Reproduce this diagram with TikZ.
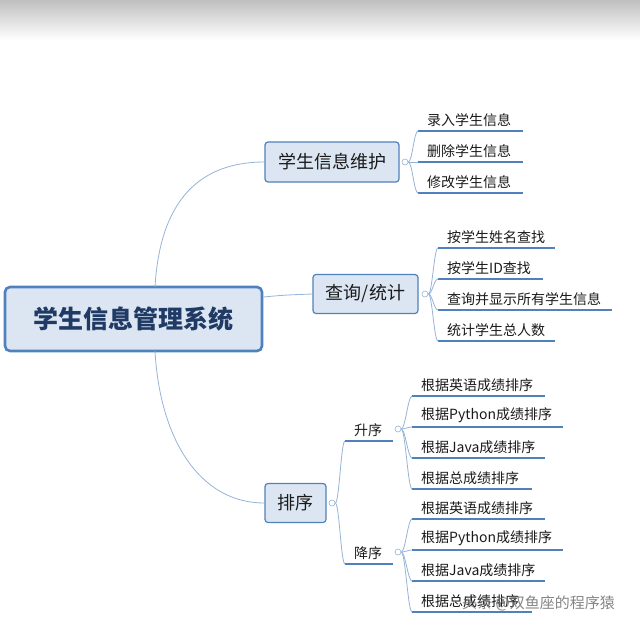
\documentclass[tikz,border=0pt]{standalone}
\usepackage{fontspec}
\setmainfont{Noto Sans CJK SC}
\begin{document}
\begin{tikzpicture}[x=1pt,y=-1pt,
  conn/.style={draw=lightline,line width=0.8pt},
  uline/.style={draw=mainblue,line width=1.8pt},
  box/.style={draw=mainblue,fill=boxfill,rounded corners=3pt,line width=1.2pt,inner sep=0pt,font=\fontsize{18}{18}\selectfont,text=textc},
  leaf/.style={anchor=south west,inner sep=0pt,font=\fontsize{14}{14}\selectfont,text=textc,yshift=4pt},
  knob/.style={circle,draw=lightline,fill=white,inner sep=0pt,minimum size=6pt,line width=0.6pt}]
\definecolor{mainblue}{HTML}{4F81BD}
\definecolor{lightline}{HTML}{95B3D7}
\definecolor{boxfill}{HTML}{DCE6F2}
\definecolor{textc}{HTML}{1A1A1A}
\definecolor{roottext}{HTML}{1F3A64}
\useasboundingbox (0,0) rectangle (640,625);
\shade[top color=black!25,bottom color=white] (0,0) rectangle (640,40);
% root
\node[draw=mainblue,fill=boxfill,rounded corners=5pt,line width=2.6pt,minimum width=257pt,minimum height=64pt,font=\fontsize{25}{25}\selectfont\bfseries,text=roottext] (root) at (133.5,319) {学生信息管理系统};
% branches
\node[box,minimum width=134pt,minimum height=40pt] (b1) at (332,162) {学生信息维护};
\node[box,minimum width=105pt,minimum height=39pt] (b2) at (365.5,294) {查询/统计};
\node[box,minimum width=61pt,minimum height=39pt] (b3) at (295.5,503) {排序};
\draw[conn] (155,287) .. controls (160,200) and (200,162) .. (b1.west);
\draw[conn] (root.east) ++(0,-22) coordinate (re) .. controls (285,295) .. (b2.west);
\draw[conn] (155,351) .. controls (160,440) and (200,503) .. (b3.west);
\node[knob] (k1) at (405,162) {};
\node[knob] (k2) at (425,294) {};
\node[knob] (k3) at (332,503) {};
\node[knob] (k4) at (398,429) {};
\node[knob] (k5) at (398,552) {};
\newcommand{\myleaf}[6]{%
  \coordinate (#1a) at (#2,#3); \coordinate (#1b) at (#4,#3);
  \draw[uline] (#1a) -- (#1b);
  \node[leaf] (#1t) at ([xshift=9pt]#1a) {#5};
  \draw[conn] (#6.east) .. controls ([xshift=4pt]#6.east) and (#2-4,#3) .. (#1a);}
\myleaf{a1}{418}{131}{523}{录入学生信息}{k1}
\myleaf{a2}{418}{162}{523}{删除学生信息}{k1}
\myleaf{a3}{418}{193}{523}{修改学生信息}{k1}
\myleaf{c1}{438}{248}{555}{按学生姓名查找}{k2}
\myleaf{c2}{438}{279}{543}{按学生ID查找}{k2}
\myleaf{c3}{438}{310}{612}{查询并显示所有学生信息}{k2}
\myleaf{c4}{438}{341}{555}{统计学生总人数}{k2}
\myleaf{s1}{345}{441}{393}{升序}{k3}
\myleaf{s2}{345}{564}{393}{降序}{k3}
\myleaf{u1}{412}{396}{545}{根据英语成绩排序}{k4}
\myleaf{u2}{412}{427}{563}{根据Python成绩排序}{k4}
\myleaf{u3}{412}{458}{545}{根据Java成绩排序}{k4}
\myleaf{u4}{412}{489}{532}{根据总成绩排序}{k4}
\myleaf{d1}{412}{519}{545}{根据英语成绩排序}{k5}
\myleaf{d2}{412}{550}{563}{根据Python成绩排序}{k5}
\myleaf{d3}{412}{581}{545}{根据Java成绩排序}{k5}
\myleaf{d4}{412}{612}{532}{根据总成绩排序}{k5}
\node[anchor=west,inner sep=0pt,font=\fontsize{15}{15}\selectfont,text=black!60,opacity=0.8] (wm) at (462,603) {头条 @双鱼座的程序猿};
\end{tikzpicture}
\end{document}
